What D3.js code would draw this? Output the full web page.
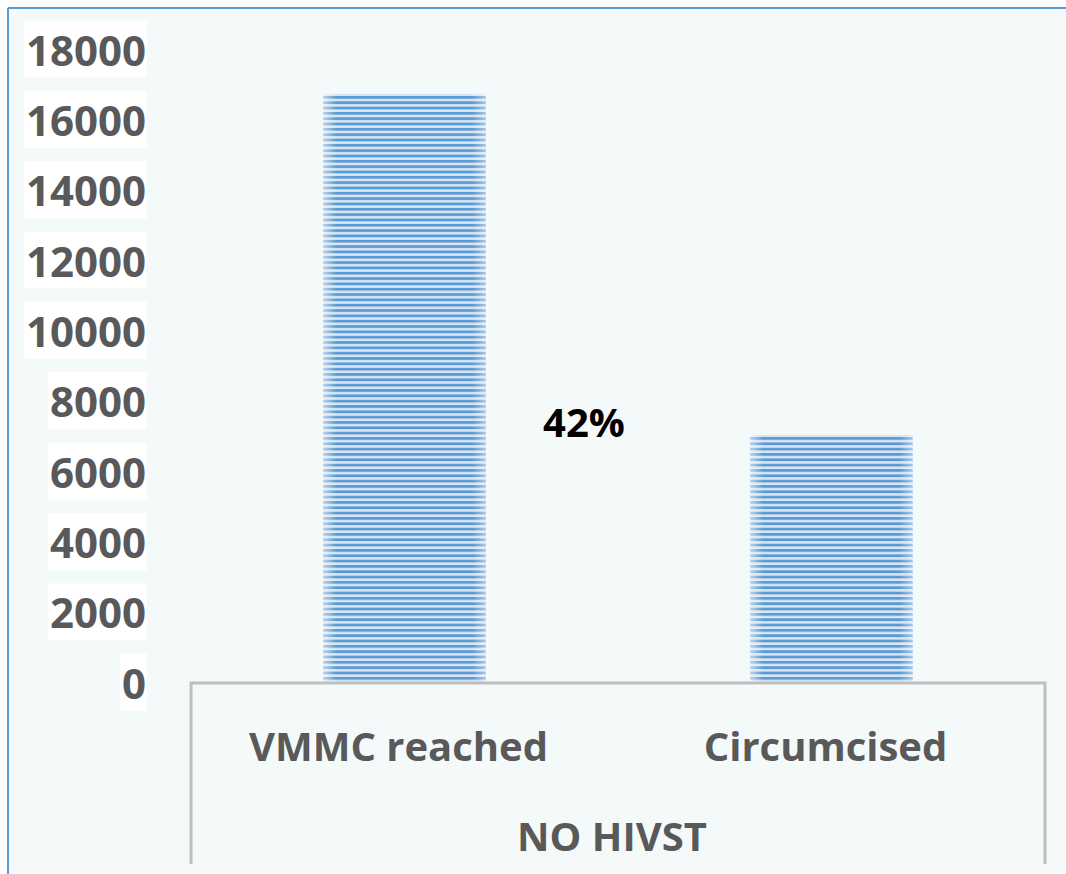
<!DOCTYPE html>
<html><head><meta charset="utf-8">
<script src="https://cdn.jsdelivr.net/npm/d3@7"></script>
<style>html,body{margin:0;padding:0;background:#fff;}svg{display:block;}</style>
</head><body>
<script>
const categories = ["VMMC reached", "Circumcised"];
const values = [16750, 7050];
const groupLabel = "NO HIVST";
const yTicks = [0, 2000, 4000, 6000, 8000, 10000, 12000, 14000, 16000, 18000];
const annotation = "42%";

const W = 1066, H = 874;
const svg = d3.select("body").append("svg").attr("width", W).attr("height", H);
const defs = svg.append("defs");

// stripe pattern
const pat = defs.append("pattern").attr("id","stripes").attr("patternUnits","userSpaceOnUse")
  .attr("width", 10).attr("height", 5.33);
pat.append("rect").attr("width",10).attr("height",5.33).attr("fill","#dbe6f2");
pat.append("rect").attr("y",0).attr("width",10).attr("height",2.8).attr("fill","#5b9bd5");

const edge = defs.append("linearGradient").attr("id","edge").attr("x1","0").attr("x2","1").attr("y1","0").attr("y2","0");
[[0,0.55],[0.08,0],[0.92,0],[1,0.45]].forEach(([o,a])=>edge.append("stop").attr("offset",o).attr("stop-color","#ffffff").attr("stop-opacity",a));

// background
svg.append("rect").attr("x",8).attr("y",8).attr("width",W-8).attr("height",H-8).attr("fill","#f4f9f9");
svg.append("line").attr("x1",8).attr("x2",W).attr("y1",8).attr("y2",8).attr("stroke","#5b9bd5").attr("stroke-width",2);
svg.append("line").attr("x1",8).attr("x2",8).attr("y1",8).attr("y2",H).attr("stroke","#5b9bd5").attr("stroke-width",2);

const x = d3.scaleBand().domain(categories).range([191, 1045]).padding(0);
const y = d3.scaleLinear().domain([0, 18000]).range([683, 50]);
const barW = x.bandwidth() * 0.38;

// bars
const bars = svg.append("g");
categories.forEach((c,i)=>{
  const bx = x(c) + (x.bandwidth()-barW)/2;
  bars.append("rect").attr("x",bx).attr("y",y(values[i])).attr("width",barW).attr("height",y(0)-y(values[i]))
    .attr("fill","url(#stripes)");
  bars.append("rect").attr("x",bx).attr("y",y(values[i])).attr("width",barW).attr("height",y(0)-y(values[i]))
    .attr("fill","url(#edge)");
});

// y axis labels with white boxes
const font = "'Open Sans', 'Noto Sans', sans-serif";
const yAxisG = svg.append("g").attr("transform","translate(146,0)")
  .call(d3.axisLeft(y).tickValues(yTicks).tickSize(0).tickPadding(0).tickFormat(d3.format("d")));
yAxisG.select(".domain").remove();
yAxisG.selectAll("text").attr("font-family",font).attr("font-weight","bold").attr("font-size",42)
  .attr("fill","#595959").attr("dy","0.36em");
yAxisG.selectAll(".tick").each(function(){
  const t = d3.select(this).select("text");
  const bb = t.node().getBBox();
  d3.select(this).insert("rect","text").attr("x",bb.x-2).attr("y",bb.y).attr("width",bb.width+3).attr("height",bb.height).attr("fill","#ffffff");
});

// category axis frame
const ax = svg.append("g").attr("stroke","#bfbfbf").attr("stroke-width",3).attr("fill","none");
ax.append("path").attr("d",`M191,864V683H1045V864`);

// category labels
svg.append("g").selectAll("text").data(categories).join("text")
  .attr("x",d=>x(d)+x.bandwidth()/2 - 6).attr("y",761)
  .attr("text-anchor","middle").attr("font-family",font).attr("font-weight","bold").attr("font-size",40)
  .attr("fill","#595959").text(d=>d);
svg.append("text").attr("x",612).attr("y",851).attr("text-anchor","middle")
  .attr("font-family",font).attr("font-weight","bold").attr("font-size",40).attr("fill","#595959").text(groupLabel);

// annotation
svg.append("text").attr("x",584).attr("y",437).attr("text-anchor","middle")
  .attr("font-family",font).attr("font-weight","bold").attr("font-size",40).attr("fill","#000").text(annotation);
</script>
</body></html>
